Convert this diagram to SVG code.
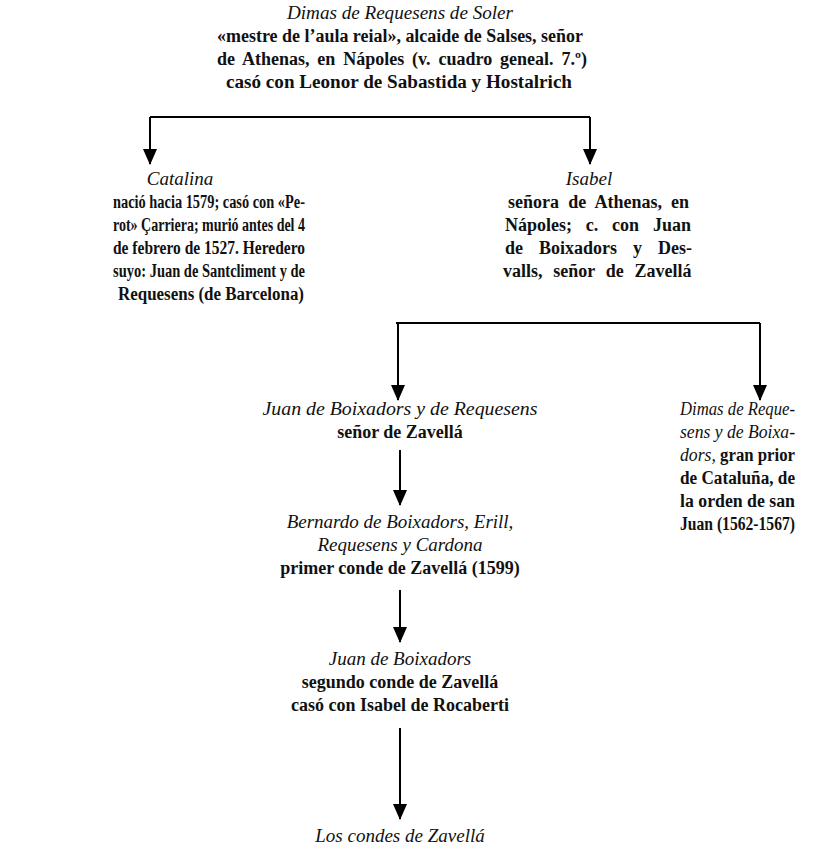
<svg xmlns="http://www.w3.org/2000/svg" width="835" height="849" viewBox="0 0 835 849">
<defs>
<marker id="arr" markerUnits="userSpaceOnUse" markerWidth="16" markerHeight="14" viewBox="0 0 16 14" refX="15" refY="7" orient="auto">
<path d="M0,0 L16,7 L0,14 Z" fill="#000"/>
</marker>
</defs>
<style>
text{font-family:"Liberation Serif","DejaVu Serif",serif;font-size:18px;fill:#111;font-weight:bold}
.i{font-style:italic;font-weight:normal;font-size:19px}
.c{text-anchor:middle}
.ln{stroke:#000;stroke-width:2;fill:none}
.dn{stroke:#000;stroke-width:2;fill:none;marker-end:url(#arr)}
</style>
<g id="connectors">
<path class="ln" d="M150,117 H590"/>
<path class="dn" d="M150,117 V164"/>
<path class="dn" d="M590,117 V164"/>
<path class="ln" d="M396,323 H760"/>
<path class="dn" d="M398,323 V400"/>
<path class="dn" d="M760,323 V400"/>
<path class="dn" d="M400,450 V505"/>
<path class="dn" d="M400,590 V642"/>
<path class="dn" d="M400,728 V819"/>
</g>
<g id="dimas-soler">
<text class="i c" x="400" y="19" textLength="226" lengthAdjust="spacingAndGlyphs">Dimas de Requesens de Soler</text>
<text x="217" y="42" textLength="366" lengthAdjust="spacingAndGlyphs">«mestre de l’aula reial», alcaide de Salses, señor</text>
<text x="217" y="65" word-spacing="3.4">de Athenas, en Nápoles (v. cuadro geneal. 7.º)</text>
<text class="c" x="399" y="88" textLength="346" lengthAdjust="spacingAndGlyphs">casó con Leonor de Sabastida y Hostalrich</text>
</g>
<g id="catalina">
<text class="i c" x="180" y="185">Catalina</text>
<text x="113" y="208" textLength="192" lengthAdjust="spacingAndGlyphs">nació hacia 1579; casó con «Pe-</text>
<text x="113" y="231" textLength="192" lengthAdjust="spacingAndGlyphs">rot» Çarriera; murió antes del 4</text>
<text x="113" y="254" textLength="192" lengthAdjust="spacingAndGlyphs">de febrero de 1527. Heredero</text>
<text x="113" y="277" textLength="192" lengthAdjust="spacingAndGlyphs">suyo: Juan de Santcliment y de</text>
<text class="c" x="211" y="300" textLength="186" lengthAdjust="spacingAndGlyphs">Requesens (de Barcelona)</text>
</g>
<g id="isabel">
<text class="i c" x="589" y="185">Isabel</text>
<text x="508" y="208" word-spacing="4.7">señora de Athenas, en</text>
<text x="505" y="231" word-spacing="9.3">Nápoles; c. con Juan</text>
<text x="505" y="254" word-spacing="11.5">de Boixadors y Des-</text>
<text x="503" y="277" word-spacing="6.3">valls, señor de Zavellá</text>
</g>
<g id="juan-boixadors-requesens">
<text class="i c" x="400" y="415" textLength="275" lengthAdjust="spacingAndGlyphs">Juan de Boixadors y de Requesens</text>
<text class="c" x="400" y="438">señor de Zavellá</text>
</g>
<g id="dimas-requesens-boixadors">
<text class="i" x="680" y="415" textLength="115" lengthAdjust="spacingAndGlyphs">Dimas de Reque-</text>
<text class="i" x="680" y="438" textLength="115" lengthAdjust="spacingAndGlyphs">sens y de Boixa-</text>
<text x="680" y="461" textLength="115" lengthAdjust="spacingAndGlyphs"><tspan class="i">dors,</tspan> gran prior</text>
<text x="680" y="484" textLength="115" lengthAdjust="spacingAndGlyphs">de Cataluña, de</text>
<text x="680" y="507" textLength="115" lengthAdjust="spacingAndGlyphs">la orden de san</text>
<text x="680" y="530" textLength="115" lengthAdjust="spacingAndGlyphs">Juan (1562-1567)</text>
</g>
<g id="bernardo">
<text class="i c" x="400" y="528">Bernardo de Boixadors, Erill,</text>
<text class="i c" x="400" y="551">Requesens y Cardona</text>
<text class="c" x="400" y="574">primer conde de Zavellá (1599)</text>
</g>
<g id="juan-boixadors">
<text class="i c" x="400" y="665">Juan de Boixadors</text>
<text class="c" x="400" y="688">segundo conde de Zavellá</text>
<text class="c" x="400" y="711">casó con Isabel de Rocaberti</text>
</g>
<g id="condes">
<text class="i c" x="400" y="842">Los condes de Zavellá</text>
</g>
</svg>
